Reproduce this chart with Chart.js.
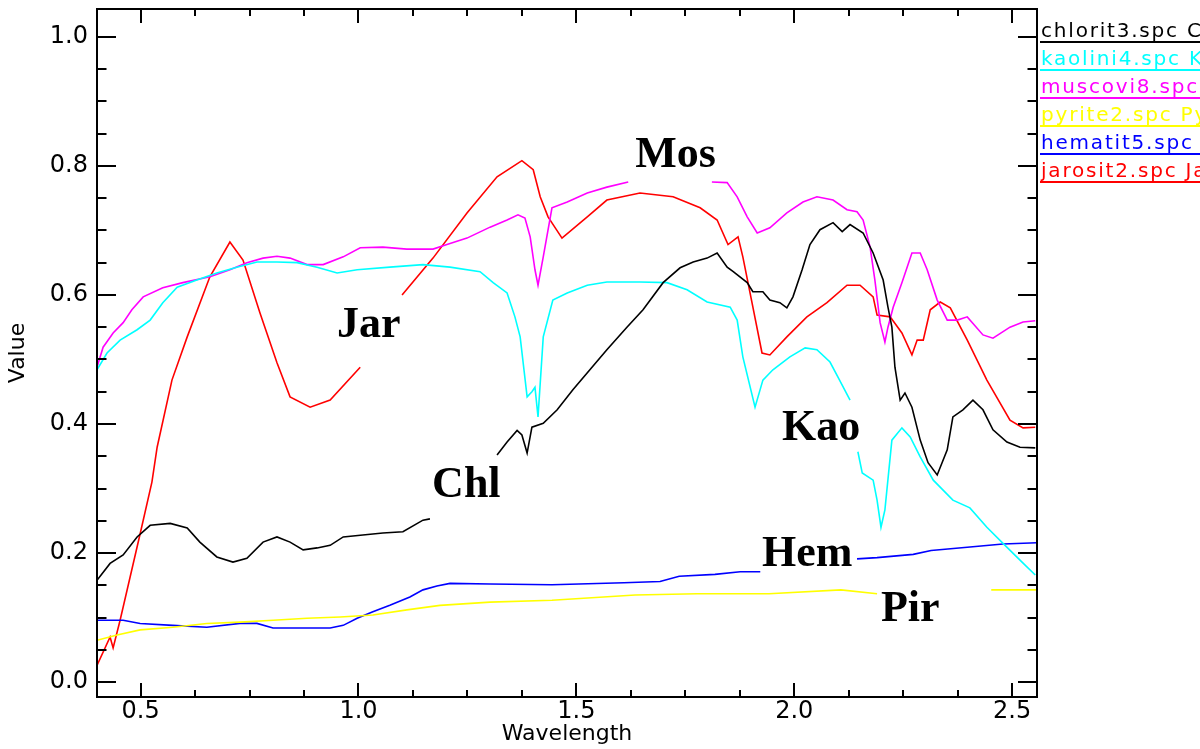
<!DOCTYPE html>
<html>
<head>
<meta charset="utf-8">
<script src="https://cdn.jsdelivr.net/npm/chart.js@4"></script>
<style>
  html, body { margin: 0; padding: 0; background: #fff; }
  canvas { display: block; }
</style>
</head>
<body>
<canvas id="spectra" width="1200" height="749"></canvas>
<script>
// [wavelength, value] pairs, null = line interrupted under a label
const chlorite = [
  [0.400, 0.158], [0.430, 0.184], [0.460, 0.197], [0.492, 0.225], [0.522, 0.243], [0.568, 0.246],
  [0.607, 0.239], [0.636, 0.217], [0.675, 0.194], [0.712, 0.186], [0.744, 0.192], [0.781, 0.217],
  [0.813, 0.225], [0.843, 0.217], [0.873, 0.205], [0.905, 0.208], [0.935, 0.212], [0.965, 0.225],
  [1.010, 0.228], [1.056, 0.231], [1.102, 0.233], [1.148, 0.251], [1.164, 0.253], [1.24, null],
  [1.318, 0.352], [1.341, 0.372], [1.364, 0.390], [1.375, 0.383], [1.387, 0.355], [1.398, 0.395],
  [1.424, 0.401], [1.456, 0.422], [1.492, 0.453], [1.531, 0.484], [1.570, 0.515], [1.616, 0.550],
  [1.653, 0.577], [1.699, 0.619], [1.738, 0.642], [1.768, 0.651], [1.800, 0.657], [1.823, 0.665],
  [1.846, 0.643], [1.860, 0.636], [1.892, 0.619], [1.905, 0.605], [1.928, 0.605], [1.944, 0.592],
  [1.967, 0.588], [1.983, 0.580], [1.997, 0.597], [2.018, 0.639], [2.036, 0.678], [2.059, 0.701],
  [2.089, 0.712], [2.110, 0.698], [2.128, 0.709], [2.158, 0.696], [2.181, 0.665], [2.204, 0.623],
  [2.215, 0.581], [2.224, 0.550], [2.231, 0.488], [2.243, 0.437], [2.254, 0.448], [2.270, 0.426],
  [2.289, 0.375], [2.307, 0.340], [2.328, 0.321], [2.351, 0.360], [2.364, 0.411], [2.387, 0.422],
  [2.410, 0.437], [2.433, 0.422], [2.456, 0.391], [2.488, 0.372], [2.518, 0.364], [2.553, 0.363]
];
const kaolinite = [
  [0.400, 0.484], [0.423, 0.510], [0.453, 0.530], [0.492, 0.546], [0.522, 0.561], [0.551, 0.588],
  [0.584, 0.612], [0.629, 0.623], [0.675, 0.634], [0.721, 0.643], [0.767, 0.651], [0.813, 0.651],
  [0.859, 0.650], [0.905, 0.643], [0.951, 0.634], [0.997, 0.639], [1.072, 0.643], [1.148, 0.647],
  [1.210, 0.643], [1.279, 0.636], [1.309, 0.619], [1.341, 0.603], [1.359, 0.566], [1.371, 0.535],
  [1.387, 0.442], [1.398, 0.450], [1.405, 0.457], [1.412, 0.411], [1.424, 0.535], [1.446, 0.592],
  [1.479, 0.603], [1.525, 0.615], [1.570, 0.620], [1.646, 0.620], [1.708, 0.619], [1.754, 0.608],
  [1.800, 0.589], [1.853, 0.581], [1.869, 0.561], [1.882, 0.504], [1.910, 0.426], [1.928, 0.468],
  [1.951, 0.484], [1.990, 0.504], [2.025, 0.518], [2.052, 0.515], [2.082, 0.496], [2.100, 0.473],
  [2.128, 0.437], [2.137, null], [2.146, 0.357], [2.156, 0.324], [2.181, 0.313], [2.190, 0.282],
  [2.199, 0.240], [2.208, 0.267], [2.224, 0.375], [2.247, 0.394], [2.266, 0.380], [2.289, 0.349],
  [2.319, 0.313], [2.364, 0.282], [2.403, 0.270], [2.442, 0.240], [2.479, 0.215], [2.518, 0.189],
  [2.553, 0.166]
];
const muscovite = [
  [0.400, 0.488], [0.414, 0.519], [0.437, 0.541], [0.460, 0.557], [0.480, 0.577], [0.506, 0.597],
  [0.551, 0.611], [0.597, 0.619], [0.659, 0.628], [0.705, 0.639], [0.744, 0.650], [0.781, 0.657],
  [0.813, 0.660], [0.843, 0.657], [0.882, 0.647], [0.919, 0.647], [0.965, 0.659], [1.004, 0.673],
  [1.056, 0.674], [1.111, 0.671], [1.171, 0.671], [1.203, 0.678], [1.249, 0.688], [1.302, 0.705],
  [1.341, 0.716], [1.366, 0.724], [1.382, 0.719], [1.394, 0.690], [1.405, 0.639], [1.412, 0.615],
  [1.424, 0.659], [1.444, 0.735], [1.479, 0.744], [1.525, 0.758], [1.570, 0.767], [1.619, 0.775],
  [1.72, null],
  [1.811, 0.775], [1.846, 0.774], [1.869, 0.752], [1.892, 0.721], [1.915, 0.696], [1.944, 0.704],
  [1.983, 0.727], [2.020, 0.744], [2.052, 0.752], [2.089, 0.747], [2.121, 0.732], [2.144, 0.729],
  [2.158, 0.716], [2.174, 0.674], [2.185, 0.623], [2.197, 0.557], [2.208, 0.527], [2.215, 0.550],
  [2.227, 0.581], [2.247, 0.619], [2.270, 0.665], [2.289, 0.665], [2.305, 0.639], [2.328, 0.592],
  [2.351, 0.561], [2.374, 0.561], [2.397, 0.566], [2.433, 0.538], [2.456, 0.533], [2.495, 0.550],
  [2.525, 0.558], [2.553, 0.560]
];
const pyrite = [
  [0.400, 0.065], [0.446, 0.073], [0.499, 0.081], [0.574, 0.085], [0.652, 0.091], [0.728, 0.093],
  [0.804, 0.096], [0.882, 0.099], [0.958, 0.101], [1.033, 0.104], [1.111, 0.112], [1.187, 0.119],
  [1.302, 0.124], [1.444, 0.127], [1.635, 0.135], [1.777, 0.137], [1.942, 0.137], [2.107, 0.143],
  [2.190, 0.137], [2.32, null], [2.452, 0.143], [2.557, 0.143]
];
const hematite = [
  [0.400, 0.096], [0.460, 0.096], [0.499, 0.091], [0.574, 0.088], [0.652, 0.085], [0.728, 0.091],
  [0.767, 0.091], [0.804, 0.084], [0.882, 0.084], [0.935, 0.084], [0.965, 0.088], [0.997, 0.099],
  [1.033, 0.109], [1.072, 0.119], [1.118, 0.132], [1.148, 0.143], [1.180, 0.149], [1.210, 0.153],
  [1.302, 0.152], [1.444, 0.151], [1.609, 0.154], [1.692, 0.156], [1.736, 0.164], [1.818, 0.167],
  [1.876, 0.171], [1.922, 0.171], [2.03, null], [2.144, 0.191], [2.190, 0.193], [2.273, 0.198],
  [2.314, 0.204], [2.397, 0.209], [2.479, 0.214], [2.557, 0.216]
];
const jarosite = [
  [0.400, 0.026], [0.430, 0.070], [0.437, 0.053], [0.453, 0.096], [0.499, 0.230], [0.526, 0.310],
  [0.538, 0.364], [0.572, 0.468], [0.607, 0.535], [0.659, 0.628], [0.705, 0.682], [0.735, 0.654],
  [0.774, 0.572], [0.813, 0.495], [0.843, 0.442], [0.889, 0.426], [0.935, 0.437], [1.004, 0.488],
  [1.05, null],
  [1.100, 0.600], [1.171, 0.657], [1.249, 0.727], [1.318, 0.783], [1.375, 0.808], [1.401, 0.794],
  [1.417, 0.752], [1.435, 0.721], [1.467, 0.688], [1.525, 0.721], [1.570, 0.747], [1.646, 0.758],
  [1.722, 0.752], [1.784, 0.735], [1.823, 0.716], [1.848, 0.678], [1.871, 0.690], [1.882, 0.659],
  [1.903, 0.588], [1.926, 0.510], [1.944, 0.507], [1.983, 0.535], [2.029, 0.566], [2.075, 0.588],
  [2.121, 0.615], [2.151, 0.615], [2.181, 0.597], [2.190, 0.569], [2.220, 0.566], [2.247, 0.541],
  [2.270, 0.507], [2.282, 0.530], [2.296, 0.530], [2.312, 0.577], [2.335, 0.589], [2.358, 0.580],
  [2.397, 0.530], [2.442, 0.468], [2.495, 0.406], [2.525, 0.394], [2.553, 0.395]
];

const seriesNames = ['chlorit3.spc Chlorite', 'kaolini4.spc Kaolinite', 'muscovi8.spc Muscovite',
  'pyrite2.spc Pyrite', 'hematit5.spc Hematite', 'jarosit2.spc Jarosite'];
const seriesColors = ['#000000', '#00ffff', '#ff00ff', '#ffff00', '#0000ff', '#ff0000'];
const seriesData = [chlorite, kaolinite, muscovite, pyrite, hematite, jarosite];

const xTicks = [0.5, 1.0, 1.5, 2.0, 2.5];
const yTicks = [0.0, 0.2, 0.4, 0.6, 0.8, 1.0];

// mineral tags written on the plot: [text, wavelength, value]
const tags = [['Jar', 0.951, 0.535], ['Mos', 1.635, 0.798], ['Kao', 1.972, 0.375],
  ['Chl', 1.169, 0.287], ['Hem', 1.926, 0.180], ['Pir', 2.199, 0.095]];

const AXIS_FONT = 'DejaVu Sans';

// box with inward IDL-style ticks on all four sides
const frame = {
  id: 'frame',
  afterDatasetsDraw(chart) {
    const { ctx, chartArea: a, scales: { x, y } } = chart;
    ctx.save();
    ctx.strokeStyle = '#000';
    ctx.lineWidth = 2;
    ctx.strokeRect(a.left, a.top, a.right - a.left, a.bottom - a.top);
    ctx.beginPath();
    for (let i = 0; i <= 20; i++) {
      const v = 0.5 + i * 0.125;
      if (v < x.min || v > x.max) continue;
      const len = i % 4 === 0 ? 14 : 7;
      const px = Math.round(x.getPixelForValue(v));
      ctx.moveTo(px, a.bottom); ctx.lineTo(px, a.bottom - len);
      ctx.moveTo(px, a.top); ctx.lineTo(px, a.top + len);
    }
    for (let i = 0; i <= 20; i++) {
      const v = i * 0.05;
      const len = i % 4 === 0 ? 19 : 9.5;
      const py = Math.round(y.getPixelForValue(v));
      ctx.moveTo(a.left, py); ctx.lineTo(a.left + len, py);
      ctx.moveTo(a.right, py); ctx.lineTo(a.right - len, py);
    }
    ctx.stroke();

    // tags
    ctx.fillStyle = '#000';
    ctx.font = 'bold 44px "Liberation Serif"';
    ctx.textBaseline = 'alphabetic';
    tags.forEach(([t, wx, wy]) => {
      ctx.fillText(t, x.getPixelForValue(wx), y.getPixelForValue(wy));
    });

    // legend to the right, clipped by the canvas edge
    ctx.font = '20px ' + AXIS_FONT;
    ctx.letterSpacing = '1.8px';
    ctx.lineWidth = 2;
    seriesNames.forEach((name, i) => {
      const base = 37 + i * 28;
      ctx.fillStyle = seriesColors[i];
      ctx.fillText(name, 1041, base);
      ctx.strokeStyle = seriesColors[i];
      ctx.beginPath();
      ctx.moveTo(1040, base + 5); ctx.lineTo(1200, base + 5);
      ctx.stroke();
    });
    ctx.restore();
  }
};

// pin the plot box: no extra room around the axes
const noPad = s => { s.paddingTop = 0; s.paddingBottom = 0; s.paddingLeft = 0; s.paddingRight = 0; };

const ctx = document.getElementById('spectra').getContext('2d');
new Chart(ctx, {
  type: 'line',
  data: {
    datasets: seriesData.map((d, i) => ({
      label: seriesNames[i],
      data: d.map(([x, y]) => ({ x, y })),
      borderColor: seriesColors[i],
      borderWidth: 1.6,
      pointRadius: 0,
      tension: 0,
      spanGaps: false,
      fill: false
    }))
  },
  options: {
    responsive: false,
    animation: false,
    devicePixelRatio: 1,
    layout: { autoPadding: false, padding: { top: 9, right: 163, left: 0, bottom: 0 } },
    plugins: { legend: { display: false }, tooltip: { enabled: false } },
    scales: {
      x: {
        type: 'linear',
        min: 0.4,
        max: 2.557,
        afterBuildTicks: s => { s.ticks = xTicks.map(v => ({ value: v })); },
        afterFit: s => { s.height = 52; noPad(s); },
        grid: { display: false, drawTicks: false },
        border: { display: false },
        ticks: {
          autoSkip: false, maxRotation: 0, padding: 3, color: '#000',
          font: { family: AXIS_FONT, size: 24, lineHeight: 1 },
          callback: v => Number(v).toFixed(1)
        },
        title: {
          display: true, text: 'Wavelength', color: '#000',
          font: { family: AXIS_FONT, size: 22 }, padding: { top: 0, bottom: 2 }
        }
      },
      y: {
        min: -0.023,
        max: 1.043,
        afterBuildTicks: s => { s.ticks = yTicks.map(v => ({ value: v })); },
        afterFit: s => { s.width = 97; noPad(s); },
        grid: { display: false, drawTicks: false },
        border: { display: false },
        ticks: {
          autoSkip: false, padding: 9, color: '#000',
          font: { family: AXIS_FONT, size: 24, lineHeight: 1 },
          callback: v => Number(v).toFixed(1)
        },
        title: {
          display: true, text: 'Value', color: '#000',
          font: { family: AXIS_FONT, size: 22 }, padding: { top: 5, bottom: 0 }
        }
      }
    }
  },
  plugins: [frame]
});
</script>
</body>
</html>
